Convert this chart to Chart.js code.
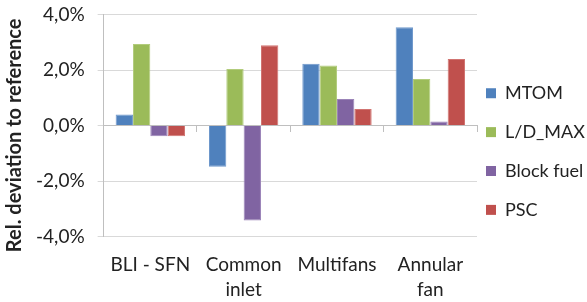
<!DOCTYPE html>
<html>
<head>
<meta charset="utf-8">
<script src="https://cdn.jsdelivr.net/npm/chart.js@4/dist/chart.umd.min.js"></script>
<style>
  html, body { margin: 0; padding: 0; background: #fff; }
  #wrap { width: 587px; height: 302px; }
</style>
</head>
<body>
<div id="wrap"><canvas id="bars"></canvas></div>
<script>
const categories = [['BLI - SFN'], ['Common', 'inlet'], ['Multifans'], ['Annular', 'fan']];
const mtom = [0.40, -1.48, 2.23, 3.55];
const ldMax = [2.94, 2.04, 2.17, 1.68];
const blockFuel = [-0.38, -3.42, 0.96, 0.15];
const psc = [-0.38, 2.90, 0.60, 2.40];
const yTicks = [-4, -2, 0, 2, 4];

const font = "Lato, 'Open Sans', sans-serif";

const ctx = document.getElementById('bars').getContext('2d');

var myChart = new Chart(ctx, {
  type: 'bar',
  data: {
    labels: categories,
    datasets: [
      { label: 'MTOM', data: mtom, backgroundColor: '#4F81BD', borderColor: '#6f98cc', borderWidth: 1 },
      { label: 'L/D_MAX', data: ldMax, backgroundColor: '#9BBB59', borderColor: '#b2cc7c', borderWidth: 1 },
      { label: 'Block fuel', data: blockFuel, backgroundColor: '#8064A2', borderColor: '#9b84b8', borderWidth: 1 },
      { label: 'PSC', data: psc, backgroundColor: '#C0504D', borderColor: '#d17471', borderWidth: 1 }
    ]
  },
  options: {
    responsive: true,
    maintainAspectRatio: false,
    animation: false,
    datasets: { bar: { categoryPercentage: 0.743, barPercentage: 1.0 } },
    layout: { padding: { left: 5, right: 0, top: 5, bottom: 0 } },
    plugins: {
      tooltip: { enabled: false },
      legend: {
        position: 'right',
        maxWidth: 110,
        // empty title only nudges the items down a bit
        title: { display: true, text: '', font: { size: 8, lineHeight: 1 }, padding: 0 },
        labels: {
          font: { family: font, size: 18, lineHeight: 1.66 },
          color: '#222',
          boxWidth: 10,
          boxHeight: 10,
          padding: 9,
          // wrap text in arrays so the item height follows the font lineHeight
          generateLabels: (chart) => Chart.defaults.plugins.legend.labels.generateLabels(chart)
            .map(item => Object.assign(item, { text: [item.text], lineWidth: 0 }))
        }
      }
    },
    scales: {
      x: {
        afterFit: (scale) => { scale.height = 65.5; },
        grid: { display: false, drawTicks: false },
        border: { display: false },
        ticks: { font: { family: font, size: 19, lineHeight: 1.3 }, color: '#222', padding: 16.5, maxRotation: 0 }
      },
      x2: {
        type: 'category',
        labels: categories,
        position: { y: 0 },
        afterFit: (scale) => { scale.height = 0; },
        grid: { offset: true, drawOnChartArea: false, tickLength: 6, color: '#bfbfbf' },
        border: { color: '#bfbfbf' },
        ticks: { display: false }
      },
      y: {
        min: -4,
        max: 4,
        afterBuildTicks: (axis) => { axis.ticks = yTicks.map(v => ({ value: v })); },
        afterFit: (scale) => { scale.paddingTop = 14.7; },
        grid: { color: '#d9d9d9', tickLength: 6 },
        border: { color: '#bfbfbf' },
        ticks: {
          font: { family: font, size: 19 },
          color: '#222',
          padding: 13,
          callback: (v) => v.toFixed(1).replace('.', ',') + '%'
        },
        title: {
          display: true,
          // trailing spaces push the centred title a little lower, like the original
          text: 'Rel. deviation to reference    ',
          font: { family: font, size: 20, weight: 'bold' },
          color: '#222',
          padding: { top: -2.5, bottom: -3.5 }
        }
      }
    }
  }
});
</script>
</body>
</html>
